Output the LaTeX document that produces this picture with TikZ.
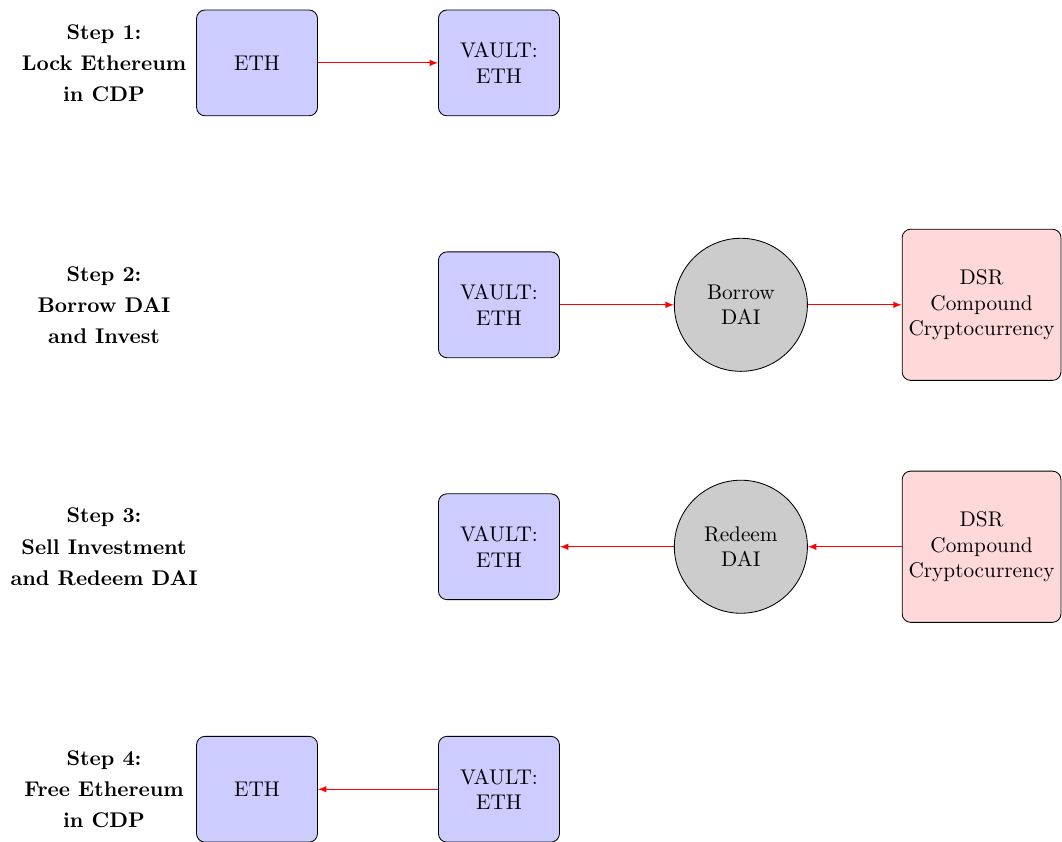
\documentclass[tikz,border=0pt]{standalone}
\usetikzlibrary{positioning}
\begin{document}
\begin{tikzpicture}[
  box/.style={draw,rounded corners,fill=blue!20,minimum width=2cm,minimum height=1.75cm,align=center},
  dsrbox/.style={draw,rounded corners,fill=red!15,minimum height=2.5cm,inner sep=3pt,align=center},
  daicirc/.style={draw,circle,fill=black!20,minimum size=2.2cm,align=center},
  steplabel/.style={font=\bfseries,align=center},
  flow/.style={draw=red,-latex}]
\useasboundingbox (0,0) rectangle (17.56,-13.92);
% step 1
\node[steplabel] (step1) at (1.72,-1.04) {Step 1:\\[2.6pt]Lock Ethereum\\[2.6pt]in CDP};
\node[box] (eth1) at (4.25,-1.04) {ETH};
\node[box] (vault1) at (8.25,-1.04) {VAULT:\\ETH};
\draw[flow] (eth1)--(vault1);
% step 2
\node[steplabel] (step2) at (1.72,-5.04) {Step 2:\\[2.6pt]Borrow DAI\\[2.6pt]and Invest};
\node[box] (vault2) at (8.25,-5.04) {VAULT:\\ETH};
\node[daicirc] (borrow) at (12.25,-5.04) {Borrow\\DAI};
\node[dsrbox] (dsr2) at (16.23,-5.04) {DSR\\Compound\\Cryptocurrency};
\draw[flow] (vault2)--(borrow);
\draw[flow] (borrow)--(dsr2);
% step 3
\node[steplabel] (step3) at (1.72,-9.04) {Step 3:\\[2.6pt]Sell Investment\\[2.6pt]and Redeem DAI};
\node[box] (vault3) at (8.25,-9.04) {VAULT:\\ETH};
\node[daicirc] (redeem) at (12.25,-9.04) {Redeem\\DAI};
\node[dsrbox] (dsr3) at (16.23,-9.04) {DSR\\Compound\\Cryptocurrency};
\draw[flow] (dsr3)--(redeem);
\draw[flow] (redeem)--(vault3);
% step 4
\node[steplabel] (step4) at (1.72,-13.05) {Step 4:\\[2.6pt]Free Ethereum\\[2.6pt]in CDP};
\node[box] (eth4) at (4.25,-13.05) {ETH};
\node[box] (vault4) at (8.25,-13.05) {VAULT:\\ETH};
\draw[flow] (vault4)--(eth4);
\end{tikzpicture}
\end{document}
